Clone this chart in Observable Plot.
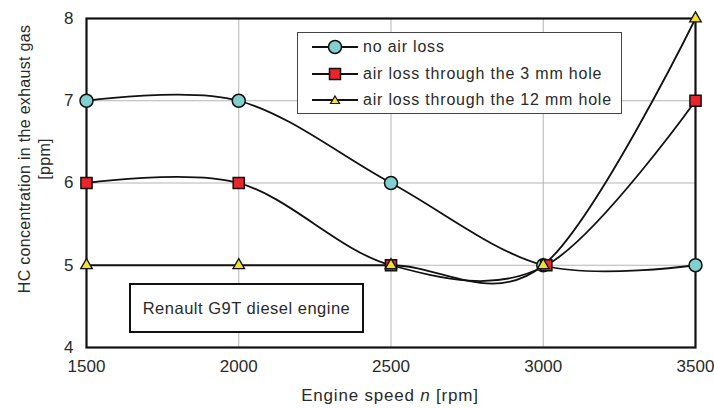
<!DOCTYPE html>
<html><head><meta charset="utf-8">
<script src="https://cdn.jsdelivr.net/npm/d3@7"></script>
<script src="https://cdn.jsdelivr.net/npm/@observablehq/plot@0.6"></script>
<style>
body{margin:0;background:#fff;font-family:"Liberation Sans",Arial,sans-serif;}
#wrap{position:relative;width:714px;height:408px;}
.ov{position:absolute;color:#2a2a2a;}
#legend{left:297px;top:32px;width:323px;height:80px;border:1px solid #444;background:#fff;}
.row{position:absolute;left:14px;height:20px;display:flex;align-items:center;font-size:16px;letter-spacing:0.8px;white-space:nowrap;}
.row svg{margin-right:5px;}
#note{left:129px;top:283px;width:231px;height:46px;border:2px solid #111;background:#fff;font-size:16.5px;letter-spacing:0.5px;display:flex;align-items:center;justify-content:center;}
#xlab{left:240px;top:386px;width:300px;text-align:center;font-size:17px;letter-spacing:0.8px;}
#ylab{left:35px;top:159px;font-size:16px;text-align:center;line-height:20px;white-space:nowrap;letter-spacing:0.3px;transform:translate(-50%,-50%) rotate(-90deg);}
</style></head>
<body><div id="wrap"></div>
<script>
const speeds = [1500, 2000, 2500, 3000, 3500];
const speeds3mm = [1500, 2000, 2500, 3010, 3500];
const noAirLoss = [7, 7, 6, 5, 5];
const loss3mm = [6, 6, 5, 5, 7];
const loss12mm = [5, 5, 5, 5, 8];
const xTicks = [1500, 2000, 2500, 3000, 3500];
const yTicks = [4, 5, 6, 7, 8];
const seriesNames = ["no air loss", "air loss through the 3 mm hole", "air loss through the 12 mm hole"];
const colors = {circle:"#82cfcf", square:"#e8262b", triangle:"#f2e22c"};

const s1 = speeds.map((x,i)=>({x, y:noAirLoss[i]}));
const s2 = speeds3mm.map((x,i)=>({x, y:loss3mm[i]}));
const s3 = speeds.map((x,i)=>({x, y:loss12mm[i]}));

const lineOpts = {x:"x", y:"y", stroke:"#111", strokeWidth:1.8, curve:"cardinal", tension:0};
const chart = Plot.plot({
  width:714, height:408,
  marginLeft:86, marginRight:19, marginTop:18, marginBottom:61,
  style:{fontFamily:"'Liberation Sans', Arial, sans-serif", fontSize:"17px", color:"#2a2a2a", background:"#fff"},
  x:{domain:[1500,3500]},
  y:{domain:[4,8]},
  marks:[
    Plot.gridX(xTicks, {stroke:"#b5b5b5", strokeOpacity:1, strokeWidth:1}),
    Plot.gridY(yTicks, {stroke:"#b5b5b5", strokeOpacity:1, strokeWidth:1}),
    Plot.axisX({ticks:xTicks, tickSize:0, tickPadding:12, label:null, tickFormat:d=>String(d), fontSize:17}),
    Plot.axisY({ticks:yTicks, tickSize:0, tickPadding:13, label:null, tickFormat:d=>String(d), fontSize:17}),
    Plot.frame({stroke:"#111", strokeWidth:2.2}),
    Plot.line(s1, lineOpts),
    Plot.line(s2, lineOpts),
    Plot.line(s3, lineOpts),
    Plot.dot(s1, {x:"x", y:"y", r:6.5, symbol:"circle", fill:colors.circle, stroke:"#111", strokeWidth:1.5}),
    Plot.dot(s2, {x:"x", y:"y", r:6.3, symbol:"square", fill:colors.square, stroke:"#111", strokeWidth:1.5}),
    Plot.dot(s3, {x:"x", y:"y", r:4.3, symbol:"triangle", fill:colors.triangle, stroke:"#111", strokeWidth:1.3})
  ]
});
const wrap = document.getElementById("wrap");
wrap.appendChild(chart);

function sym(kind){
  let m = "";
  if(kind==="circle") m = `<circle cx="23" cy="10" r="6.5" fill="${colors.circle}" stroke="#111" stroke-width="1.5"/>`;
  if(kind==="square") m = `<rect x="17.5" y="4.5" width="11" height="11" fill="${colors.square}" stroke="#111" stroke-width="1.5"/>`;
  if(kind==="triangle") m = `<path d="M23,6 L27.5,13.5 L18.5,13.5 Z" fill="${colors.triangle}" stroke="#111" stroke-width="1.2"/>`;
  return `<svg width="46" height="20"><line x1="0" x2="46" y1="10" y2="10" stroke="#111" stroke-width="1.8"/>${m}</svg>`;
}
const legend = document.createElement("div");
legend.id="legend"; legend.className="ov";
const kinds = ["circle","square","triangle"];
legend.innerHTML = seriesNames.map((n,i)=>`<div class="row" style="top:${4+i*26.5}px">${sym(kinds[i])}<span>${n}</span></div>`).join("");
wrap.appendChild(legend);

const note = document.createElement("div");
note.id="note"; note.className="ov"; note.textContent="Renault G9T diesel engine";
wrap.appendChild(note);

const xlab = document.createElement("div");
xlab.id="xlab"; xlab.className="ov"; xlab.innerHTML='Engine speed <i>n</i> [rpm]';
wrap.appendChild(xlab);

const ylab = document.createElement("div");
ylab.id="ylab"; ylab.className="ov"; ylab.innerHTML='HC concentration in the exhaust gas<br>[ppm]';
wrap.appendChild(ylab);
</script></body></html>
